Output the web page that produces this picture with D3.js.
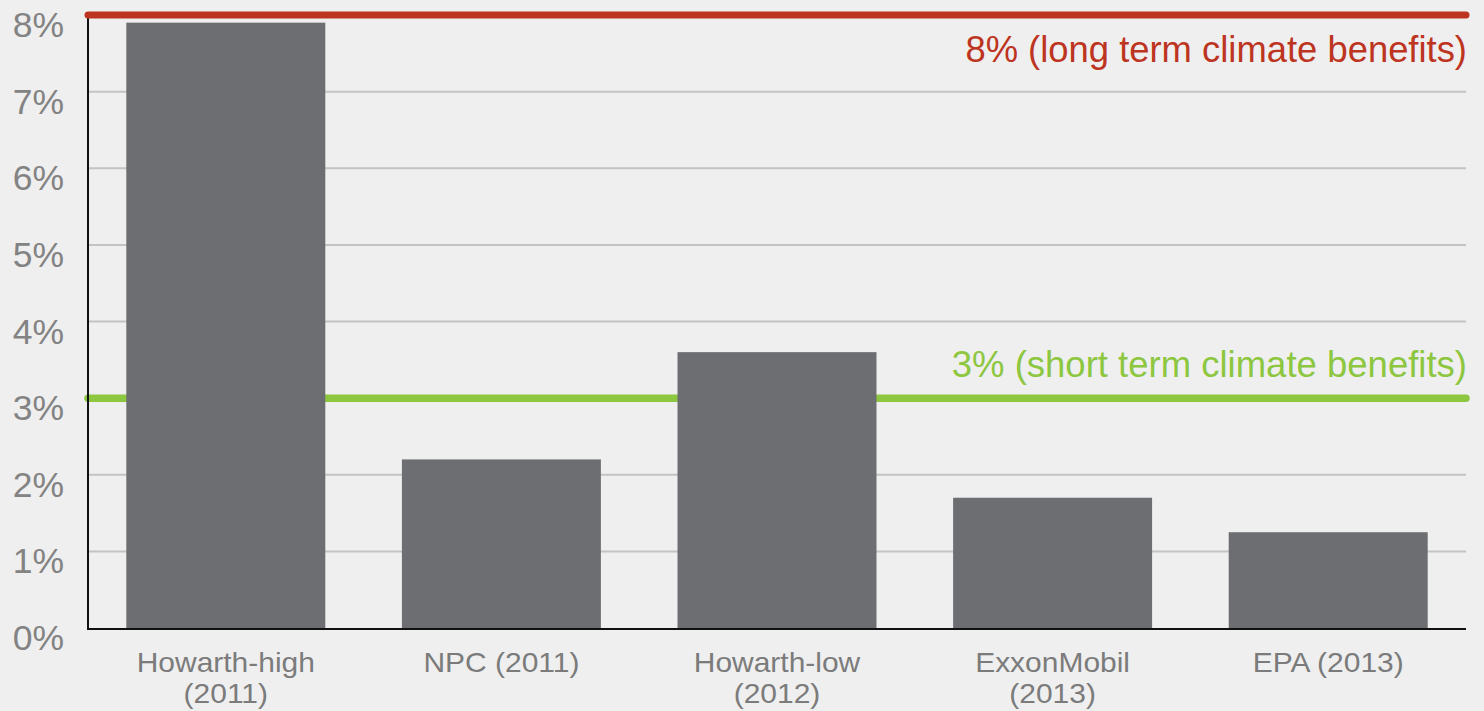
<!DOCTYPE html>
<html>
<head>
<meta charset="utf-8">
<script src="https://cdn.jsdelivr.net/npm/d3@7"></script>
<style>
  html, body { margin: 0; padding: 0; background: #efefef; }
  svg { display: block; }
  text { font-family: "Liberation Sans", Arial, Helvetica, sans-serif; }
</style>
</head>
<body>
<script>
const categories = [["Howarth-high", "(2011)"], ["NPC (2011)"], ["Howarth-low", "(2012)"], ["ExxonMobil", "(2013)"], ["EPA (2013)"]];
const values = [7.9, 2.2, 3.6, 1.7, 1.25];
const yTicks = [0, 1, 2, 3, 4, 5, 6, 7, 8];
const yTickLabels = ["0%", "1%", "2%", "3%", "4%", "5%", "6%", "7%", "8%"];
const refValues = [8, 3];
const refLabels = ["8% (long term climate benefits)", "3% (short term climate benefits)"];
const refColors = ["#bd3421", "#8dc63f"];

const W = 1484, H = 711;
const x0 = 88, x1 = 1466, yTop = 15, yBot = 628;

const svg = d3.select("body").append("svg").attr("width", W).attr("height", H);
svg.append("rect").attr("width", W).attr("height", H).attr("fill", "#efefef");

const keys = categories.map(c => c.join(" "));
const x = d3.scaleBand().domain(keys).range([x0, x1]).paddingInner(0.278).paddingOuter(0.139);
const y = d3.scaleLinear().domain([0, 8]).range([yBot, yTop]);

// gridlines
svg.append("g").selectAll("line").data(yTicks.filter(t => t > 0 && t < 8)).join("line")
  .attr("x1", x0).attr("x2", x1)
  .attr("y1", d => y(d)).attr("y2", d => y(d))
  .attr("stroke", "#c3c3c3").attr("stroke-width", 2);

// y axis labels
svg.append("g").selectAll("text").data(yTicks).join("text")
  .attr("x", 64).attr("y", d => y(d) + 22)
  .attr("text-anchor", "end")
  .attr("font-size", 35.5)
  .attr("fill", "#838383")
  .text((d, i) => yTickLabels[i]);

// green (3%) reference line behind bars
svg.append("line")
  .attr("x1", x0).attr("x2", x1)
  .attr("y1", y(refValues[1])).attr("y2", y(refValues[1]))
  .attr("stroke", refColors[1]).attr("stroke-width", 7.5).attr("stroke-linecap", "round");

// baseline
svg.append("line").attr("x1", x0).attr("x2", x1).attr("y1", yBot + 1).attr("y2", yBot + 1)
  .attr("stroke", "#111").attr("stroke-width", 2);

// bars
svg.append("g").selectAll("rect").data(values).join("rect")
  .attr("x", (d, i) => x(keys[i]))
  .attr("width", x.bandwidth())
  .attr("y", d => y(d))
  .attr("height", d => yBot - y(d))
  .attr("fill", "#6d6e71");

// vertical axis
svg.append("line").attr("x1", x0).attr("x2", x0).attr("y1", yTop).attr("y2", yBot + 2)
  .attr("stroke", "#111").attr("stroke-width", 2);

// red (8%) reference line
svg.append("line")
  .attr("x1", x0).attr("x2", x1)
  .attr("y1", y(refValues[0])).attr("y2", y(refValues[0]))
  .attr("stroke", refColors[0]).attr("stroke-width", 7).attr("stroke-linecap", "round");

// reference labels
svg.append("text").attr("x", 1467).attr("y", y(refValues[0]) + 47)
  .attr("text-anchor", "end").attr("font-size", 36.4).attr("fill", refColors[0])
  .text(refLabels[0]);
svg.append("text").attr("x", 1467).attr("y", y(refValues[1]) - 21)
  .attr("text-anchor", "end").attr("font-size", 36.5).attr("fill", refColors[1])
  .text(refLabels[1]);

// x labels (slightly wide, short glyphs like the reference)
const lineY = [672, 702.5];
const xg = svg.append("g").selectAll("g").data(categories).join("g")
  .attr("transform", (d, i) => `translate(${x(keys[i]) + x.bandwidth() / 2},0)`);
xg.selectAll("text").data(d => d).join("text")
  .attr("transform", (d, i) => `translate(0,${lineY[i]}) scale(1.11,1)`)
  .attr("text-anchor", "middle")
  .attr("font-size", 27)
  .attr("fill", "#7b7b7b")
  .text(d => d);
</script>
</body>
</html>
